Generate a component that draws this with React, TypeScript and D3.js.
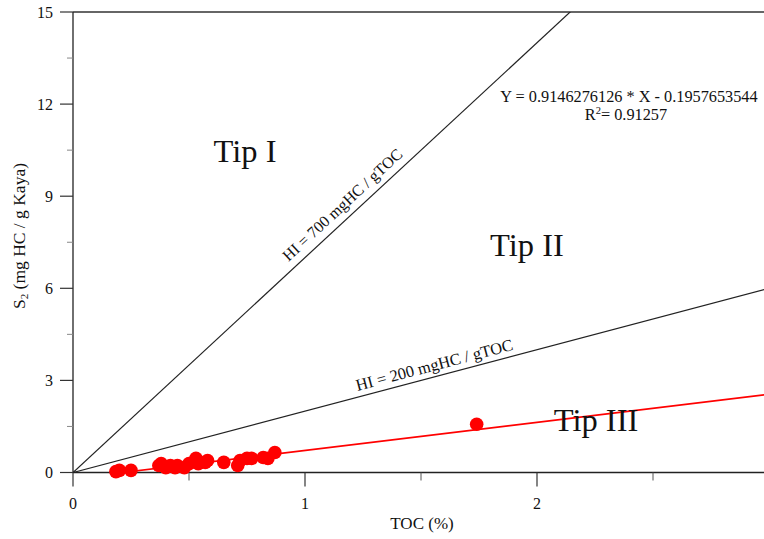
import React from "react";
import * as d3 from "d3";

const tocValues = [0.185, 0.2, 0.25, 0.37, 0.38, 0.4, 0.42, 0.44, 0.45, 0.48, 0.5, 0.53, 0.54, 0.57, 0.58, 0.65, 0.71, 0.72, 0.75, 0.77, 0.82, 0.84, 0.87, 1.74];
const s2Values = [0.03, 0.07, 0.07, 0.23, 0.29, 0.16, 0.23, 0.16, 0.23, 0.16, 0.29, 0.46, 0.29, 0.33, 0.39, 0.33, 0.23, 0.39, 0.46, 0.46, 0.49, 0.46, 0.65, 1.57];
const xTicks = [0, 1, 2, 3];
const xMinorTicks = [0.5, 1.5, 2.5];
const yTicks = [0, 3, 6, 9, 12, 15];
const yMinorTicks = [1.5, 4.5, 7.5, 10.5, 13.5];
const hiLines = [7, 2];
const regSlope = 0.9146276126;
const regIntercept = -0.1957653544;

const W = 764, H = 539;
const FF = '"Liberation Serif", "DejaVu Serif", serif';
const T: React.CSSProperties = { fontFamily: FF };

export default function App() {
  const x = d3.scaleLinear().domain([0, 3]).range([73, 769]);
  const y = d3.scaleLinear().domain([0, 15]).range([472.5, 12]);
  const line = d3.line<[number, number]>().x(d => x(d[0])).y(d => y(d[1]));
  const xMin = d3.min(tocValues) as number;
  const regPts: [number, number][] = [[xMin, regSlope * xMin + regIntercept], [3, regSlope * 3 + regIntercept]];
  const ang = (slope: number) => (Math.atan2(y(0) - y(slope), x(1) - x(0)) * 180) / Math.PI;
  const lblPos = (slope: number, xv: number, off: number) => {
    const a = (ang(slope) * Math.PI) / 180;
    return [x(xv) - off * Math.sin(a), y(slope * xv) - off * Math.cos(a)];
  };
  const p700 = lblPos(7, 1.2, 8);
  const p200 = lblPos(2, 1.57, 6);
  return (
    <div style={{ position: "fixed", left: 0, top: 0 }}>
      <svg width={W} height={H} style={{ display: "block", background: "#fff" }}>
        <defs>
          <clipPath id="plot">
            <rect x={73} y={12} width={769 - 73} height={472.5 - 12} />
          </clipPath>
        </defs>
        {/* frame */}
        <line x1={73} x2={769} y1={12} y2={12} stroke="#333" strokeWidth={1.3} />
        <line x1={769} x2={769} y1={12} y2={472.5} stroke="#333" strokeWidth={1.3} />
        <line x1={73} x2={769} y1={y(0)} y2={y(0)} stroke="#222" strokeWidth={1.3} />
        <line x1={73} x2={73} y1={12} y2={y(0)} stroke="#222" strokeWidth={1.3} />
        {/* y ticks */}
        {yTicks.map(t => (
          <g key={"y" + t}>
            <line x1={60} x2={73} y1={y(t)} y2={y(t)} stroke="#333" strokeWidth={1.2} />
            <text x={53} y={y(t)} dy="0.35em" textAnchor="end" fontSize={16} fill="#111" style={T}>{t}</text>
          </g>
        ))}
        {yMinorTicks.map(t => (
          <line key={"ym" + t} x1={67} x2={73} y1={y(t)} y2={y(t)} stroke="#888" strokeWidth={1} />
        ))}
        {/* x ticks */}
        {xTicks.map(t => (
          <g key={"x" + t}>
            <line x1={x(t)} x2={x(t)} y1={y(0)} y2={y(0) + 14} stroke="#333" strokeWidth={1.2} />
            <text x={x(t)} y={509} textAnchor="middle" fontSize={16} fill="#111" style={T}>{t}</text>
          </g>
        ))}
        {xMinorTicks.map(t => (
          <line key={"xm" + t} x1={x(t)} x2={x(t)} y1={y(0)} y2={y(0) + 8} stroke="#555" strokeWidth={1} />
        ))}
        {/* axis titles */}
        <text x={422} y={529} textAnchor="middle" fontSize={17} fill="#111" style={T}>TOC (%)</text>
        <text transform={`translate(25,236) rotate(-90)`} textAnchor="middle" fontSize={17.5} fill="#111" style={T}>
          S<tspan fontSize={11} dy={3}>2</tspan><tspan dy={-3}> (mg HC / g Kaya)</tspan>
        </text>
        {/* HI lines */}
        <g clipPath="url(#plot)">
          {hiLines.map(s => (
            <path key={"hi" + s} d={line([[0, 0], [3, s * 3]]) as string} fill="none" stroke="#222" strokeWidth={1.2} />
          ))}
          <path d={line(regPts) as string} fill="none" stroke="#ff0000" strokeWidth={1.6} />
        </g>
        <text transform={`translate(${p700[0]},${p700[1]}) rotate(${-ang(7)})`} textAnchor="middle" fontSize={16} fill="#111" style={T}>HI = 700 mgHC / gTOC</text>
        <text transform={`translate(${p200[0]},${p200[1]}) rotate(${-ang(2)})`} textAnchor="middle" fontSize={16.5} fill="#111" style={T}>HI = 200 mgHC / gTOC</text>
        {/* points */}
        {tocValues.map((v, i) => (
          <circle key={"p" + i} cx={x(v)} cy={y(s2Values[i])} r={6.8} fill="#ff0000" />
        ))}
        {/* labels */}
        <text x={245} y={162} textAnchor="middle" fontSize={32.5} fill="#111" style={T}>Tip I</text>
        <text x={527} y={256} textAnchor="middle" fontSize={32.5} fill="#111" style={T}>Tip II</text>
        <text x={596} y={431} textAnchor="middle" fontSize={32.5} fill="#111" style={T}>Tip III</text>
        <text x={629} y={102} textAnchor="middle" fontSize={16.3} fill="#111" style={T}>Y = 0.9146276126 * X - 0.1957653544</text>
        <text x={626} y={120} textAnchor="middle" fontSize={16.3} fill="#111" style={T}>
          R<tspan fontSize={10.5} dy={-6}>2</tspan><tspan dy={6}>= 0.91257</tspan>
        </text>
      </svg>
    </div>
  );
}
